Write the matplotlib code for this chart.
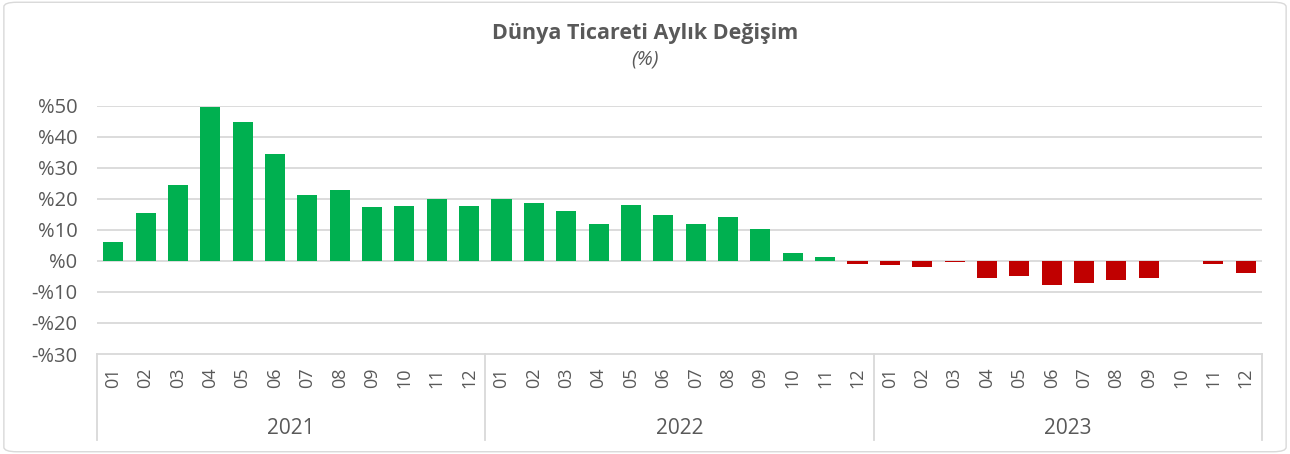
import matplotlib.pyplot as plt
from matplotlib.patches import FancyBboxPatch
from matplotlib.transforms import blended_transform_factory

plt.rcParams['font.family'] = ['Open Sans', 'DejaVu Sans']

years = ["2021", "2022", "2023"]
months = ["01", "02", "03", "04", "05", "06", "07", "08", "09", "10", "11", "12"]
v2021 = [6.1, 15.5, 24.5, 49.8, 44.8, 34.5, 21.3, 22.9, 17.4, 17.7, 20.0, 17.7]
v2022 = [20.0, 18.7, 16.1, 11.9, 18.1, 14.8, 11.9, 14.2, 10.3, 2.6, 1.3, -1.1]
v2023 = [-1.3, -1.8, -0.4, -5.6, -5.0, -7.6, -7.2, -6.0, -5.6, 0.0, -1.1, -4.0]

values = v2021 + v2022 + v2023
labels = months * len(years)
text_c = "#595959"
grid_c = "#d9d9d9"

fig = plt.figure(figsize=(12.9, 4.54), dpi=100)
ax = fig.add_axes([97 / 1290, 1 - 354 / 454, (1262 - 97) / 1290, (354 - 106) / 454])

x = list(range(len(values)))
colors = ["#00B050" if v >= 0 else "#C00000" for v in values]
ax.bar(x, values, width=0.62, color=colors, zorder=3)

ax.set_xlim(-0.5, len(values) - 0.5)
ax.set_ylim(-30, 50)
ax.set_yticks(range(-30, 51, 10))
ax.set_yticklabels([f"-%{abs(t)}" if t < 0 else f"%{t}" for t in range(-30, 51, 10)],
                   fontsize=14.5, color=text_c)
ax.tick_params(axis="y", length=0, pad=14)
ax.set_xticks([])
for t in range(-20, 51, 10):
    ax.axhline(t, color=grid_c, lw=1.3, zorder=1)
for s in ["top", "right", "left"]:
    ax.spines[s].set_visible(False)
ax.spines["bottom"].set_color(grid_c)
ax.spines["bottom"].set_linewidth(1.3)

# two-level category axis
tr = blended_transform_factory(ax.transData, fig.transFigure)
for i, lab in enumerate(labels):
    ax.text(i, 1 - 378 / 454, lab, transform=tr, rotation=90, ha="center", va="center",
            fontsize=13, color=text_c)
for k, yr in enumerate(years):
    ax.text(k * 12 + 5.5, 1 - 428 / 454, yr, transform=tr, ha="center", va="center",
            fontsize=15, color=text_c)
for k in range(len(years) + 1):
    ax.plot([k * 12 - 0.5, k * 12 - 0.5], [1 - 354 / 454, 1 - 440 / 454], transform=tr,
            color=grid_c, lw=1.3, clip_on=False)

fig.text(0.5, 1 - 34 / 454, "Dünya Ticareti Aylık Değişim", ha="center", va="center",
         fontsize=15.5, fontweight="bold", color=text_c)
fig.text(0.5, 1 - 60 / 454, "(%)", ha="center", va="center", fontsize=14.5,
         style="italic", color=text_c)

fig.patches.append(FancyBboxPatch((0.003, 0.005), 0.994, 0.99, boxstyle="round,pad=0,rounding_size=0.01",
                                  transform=fig.transFigure, fill=False, edgecolor=grid_c, lw=1))

fig.savefig("out.png", dpi=100)
